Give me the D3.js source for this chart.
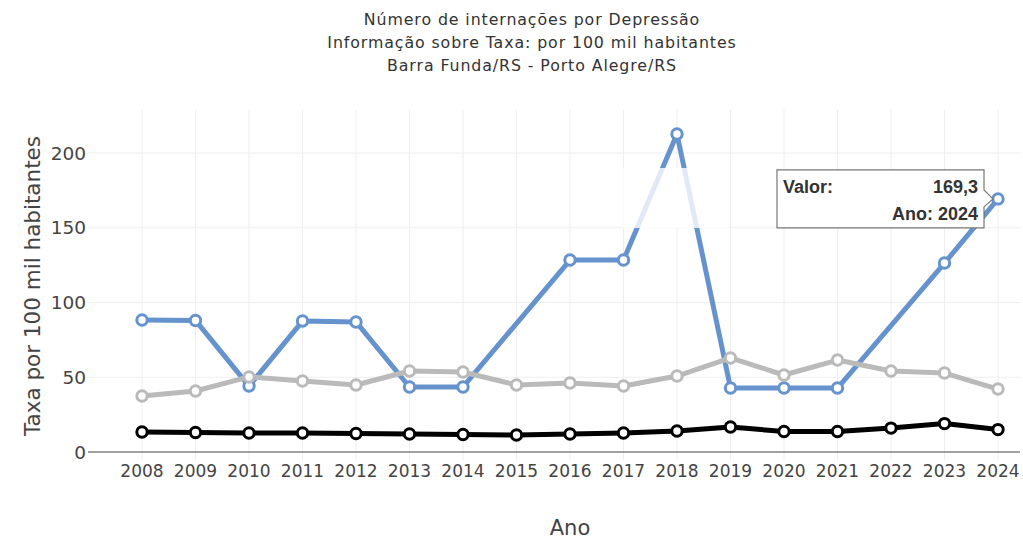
<!DOCTYPE html>
<html>
<head>
<meta charset="utf-8">
<script src="https://cdn.jsdelivr.net/npm/d3@7"></script>
<style>
  body { margin: 0; background: #fff; }
  svg { font-family: 'DejaVu Sans', sans-serif; }
</style>
</head>
<body>
<svg id="chart" width="1023" height="541"></svg>
<script>
const titleLines = ['Número de internações por Depressão', 'Informação sobre Taxa: por 100 mil habitantes', 'Barra Funda/RS - Porto Alegre/RS']
const years = [2008, 2009, 2010, 2011, 2012, 2013, 2014, 2015, 2016, 2017, 2018, 2019, 2020, 2021, 2022, 2023, 2024]
const barraFunda = [88.3, 88.0, 44.1, 87.6, 87.0, 43.5, 43.5, null, 128.4, 128.4, 212.7, 42.8, 42.8, 42.8, null, 126.4, 169.3]
const portoAlegre = [37.5, 40.8, 50.2, 47.5, 44.8, 54.2, 53.5, 44.8, 46.2, 44.1, 50.8, 62.9, 51.5, 61.5, 54.2, 52.8, 42.1]
const rsTotal = [13.4, 13.0, 12.7, 12.7, 12.4, 12.0, 11.7, 11.4, 12.0, 12.7, 14.0, 16.7, 13.7, 13.7, 16.0, 19.0, 15.0]
const yTicks = [0, 50, 100, 150, 200]

const svg = d3.select('#chart')
const x = d3.scalePoint().domain(years).range([142, 998])
const y = d3.scaleLinear().domain([0, 200]).range([452, 153])
const plotLeft = 90, plotRight = 1020, plotTop = 110

// titulo
svg.append('g').selectAll('text').data(titleLines).enter().append('text')
  .attr('x', 532).attr('y', (_, i) => 25 + i * 23)
  .attr('text-anchor', 'middle')
  .style('font-size', '15.8px').style('letter-spacing', '0.9px').style('fill', '#333')
  .text(d => d)

// grade
const grid = svg.append('g')
grid.selectAll('line.v').data(years).enter().append('line')
  .attr('x1', d => x(d)).attr('x2', d => x(d))
  .attr('y1', plotTop).attr('y2', y(0) + 8)
  .style('stroke', '#eeeeee').style('stroke-width', 1)
grid.selectAll('line.h').data(yTicks.filter(d => d > 0)).enter().append('line')
  .attr('x1', plotLeft - 2).attr('x2', plotRight)
  .attr('y1', d => y(d)).attr('y2', d => y(d))
  .style('stroke', '#eeeeee').style('stroke-width', 1)
svg.append('line')
  .attr('x1', plotLeft - 2).attr('x2', plotRight)
  .attr('y1', y(0)).attr('y2', y(0))
  .style('stroke', '#444').style('stroke-width', 1.2)

// eixos
svg.append('g').selectAll('text').data(yTicks).enter().append('text')
  .attr('x', 86).attr('y', d => y(d)).attr('dy', '0.36em')
  .attr('text-anchor', 'end')
  .style('font-size', '18.5px').style('fill', '#444')
  .text(d => d)
svg.append('g').selectAll('text').data(years).enter().append('text')
  .attr('x', d => x(d)).attr('y', 477)
  .attr('text-anchor', 'middle')
  .style('font-size', '17px').style('fill', '#444')
  .text(d => d)

svg.append('text')
  .attr('transform', 'translate(40, 286) rotate(-90)')
  .attr('text-anchor', 'middle')
  .style('font-size', '21.5px').style('fill', '#444')
  .text('Taxa por 100 mil habitantes')
svg.append('text')
  .attr('x', 570).attr('y', 535)
  .attr('text-anchor', 'middle')
  .style('font-size', '21px').style('fill', '#444')
  .text('Ano')

// series
const series = [
  { values: barraFunda, color: '#6693cd' },
  { values: portoAlegre, color: '#bababa' },
  { values: rsTotal, color: '#000000' }
]
const line = d3.line().x(d => x(d.year)).y(d => y(d.value))

series.forEach(s => {
  const pts = years.map((year, i) => ({ year, value: s.values[i] })).filter(d => d.value !== null)
  const gs = svg.append('g')
  gs.append('path').datum(pts)
    .attr('d', line)
    .style('fill', 'none').style('stroke', s.color)
    .style('stroke-width', 5).style('stroke-linejoin', 'round')
  gs.selectAll('circle').data(pts).enter().append('circle')
    .attr('cx', d => x(d.year)).attr('cy', d => y(d.value))
    .attr('r', 5.2)
    .style('fill', '#fff').style('stroke', s.color).style('stroke-width', 3)
})

// sobra de tooltip esmaecido
svg.append('rect')
  .attr('x', x(2017) - 1).attr('y', 168)
  .attr('width', x(2019) - x(2017)).attr('height', 60)
  .style('fill', '#fff').style('opacity', 0.8)

// tooltip
const last = years.length - 1
const tx = x(years[last]), ty = y(barraFunda[last])
const tip = svg.append('g')
const bx = tx - 221, by = ty - 29, bw = 207, bh = 58
tip.append('path')
  .attr('d', `M${bx},${by}H${bx + bw}V${ty - 9}L${tx - 5},${ty}L${bx + bw},${ty + 8}V${by + bh}H${bx}Z`)
  .style('fill', '#fff').style('stroke', '#777').style('stroke-width', 1.2)
const tipFont = (sel) => sel.style('font-family', 'Liberation Sans, Arial, sans-serif')
  .style('font-weight', 'bold').style('font-size', '18px').style('fill', '#333')
tip.append('text').attr('x', bx + 6).attr('y', by + 23).call(tipFont).text('Valor:')
tip.append('text').attr('x', bx + bw - 6).attr('y', by + 23).attr('text-anchor', 'end').call(tipFont)
  .text(d3.format('.1f')(barraFunda[last]).replace('.', ','))
tip.append('text').attr('x', bx + bw - 6).attr('y', by + 50).attr('text-anchor', 'end').call(tipFont)
  .text(`Ano: ${years[last]}`)
</script>
</body>
</html>
